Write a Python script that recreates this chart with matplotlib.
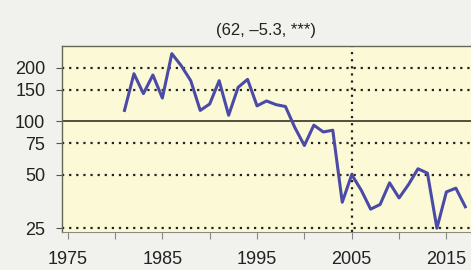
import matplotlib
matplotlib.use("Agg")
from matplotlib import pyplot as plt
from matplotlib.ticker import FixedLocator, NullLocator, FixedFormatter

years = list(range(1981, 2018))
values = [115, 185, 143, 182, 135, 240, 205, 169, 115, 125, 169, 108, 155, 172,
          122, 130, 124, 121, 92, 73, 95, 87, 89, 35, 50, 41, 32, 34, 45, 37,
          44, 54, 51, 25, 40, 42, 33]

ytick_vals = [25, 50, 75, 100, 150, 200]
grid_vals = [25, 50, 75, 150, 200]
xtick_major = [1975, 1985, 1995, 2005, 2015]
xtick_minor = [1980, 1990, 2000, 2010]
title = "(62, \u20135.3, ***)"

plt.rcParams["font.family"] = ["Liberation Sans", "DejaVu Sans"]

fig = plt.figure(figsize=(4.71, 2.70), dpi=100)
fig.patch.set_facecolor("#f1f1ee")
ax = fig.add_axes([62 / 471, 1 - 232 / 270, 1 - 62 / 471, (232 - 46) / 270])
ax.set_facecolor("#fcfad6")

ax.set_yscale("log")
ax.set_ylim(23.8, 265)
ax.set_xlim(1974.4, 2017.6)

# dotted guides + solid line at 100 + dotted line at 2005
for v in grid_vals:
    ax.axhline(v, color="#222222", lw=1.6, ls=(0, (1, 2.2)), zorder=1)
ax.axhline(100, color="#333322", lw=1.2, zorder=1)
ax.axvline(2005, color="#222222", lw=1.6, ls=(0, (1, 2.2)), zorder=1)

ax.plot(years, values, color="#4b4aa6", lw=2.2, zorder=3)

ax.yaxis.set_major_locator(FixedLocator(ytick_vals))
ax.yaxis.set_major_formatter(FixedFormatter([str(v) for v in ytick_vals]))
ax.yaxis.set_minor_locator(NullLocator())
ax.set_xticks(xtick_major)
ax.set_xticklabels([str(x) for x in xtick_major])
ax.set_xticks(xtick_minor, minor=True)

ax.tick_params(axis="y", length=4, width=0.8, color="#555555", pad=8, labelsize=13, labelcolor="#222222")
ax.tick_params(axis="x", which="both", length=5, width=0.8, color="#888888", pad=9, labelsize=13, labelcolor="#222222")

ax.spines["right"].set_visible(False)
ax.spines["bottom"].set_color("#8a8a80")
ax.spines["bottom"].set_linewidth(0.8)
for s in ["left", "top"]:
    ax.spines[s].set_color("#666655")
    ax.spines[s].set_linewidth(1.0)

ax.set_title(title, fontsize=12, pad=8, color="#222222")

fig.savefig("out.png", dpi=100, facecolor=fig.get_facecolor())
